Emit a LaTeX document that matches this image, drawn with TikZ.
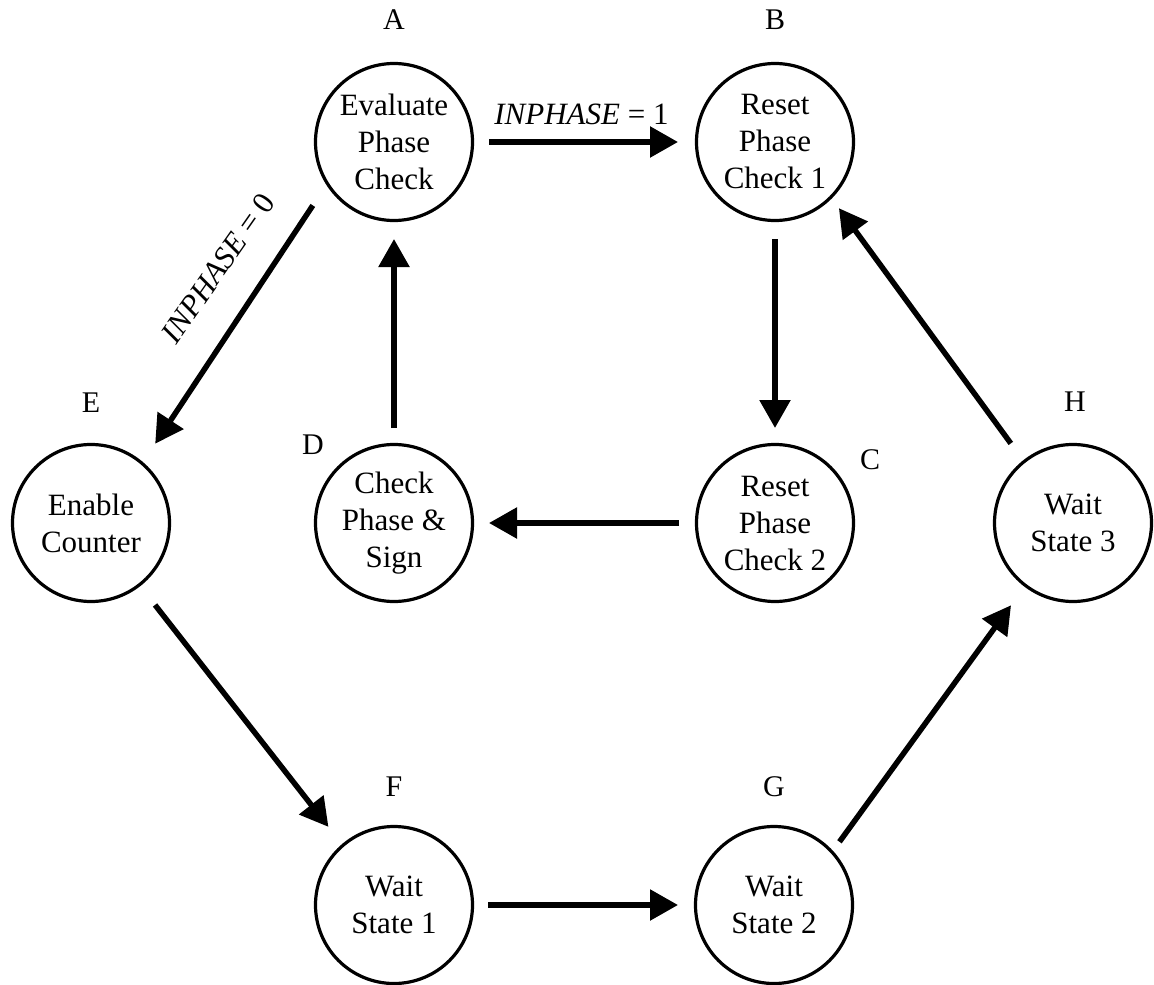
\documentclass[tikz,border=0pt]{standalone}
\usepackage{fontspec}
\setmainfont{Liberation Serif}
\usetikzlibrary{arrows.meta,calc}
\begin{document}
\begin{tikzpicture}[x=1pt,y=-1pt,
  state/.style={circle, draw, line width=3.2pt, minimum size=157pt, inner sep=0pt,
    align=center, font=\fontsize{31}{37}\selectfont},
  lbl/.style={font=\fontsize{30}{36}\selectfont, inner sep=0pt},
  cond/.style={font=\fontsize{31}{37}\selectfont, inner sep=0pt},
  arr/.style={line width=5.5pt, -{Triangle[length=28pt,width=30pt]}},
]
\useasboundingbox (0,0) rectangle (1154,985);

% states
\node[state] (A) at (394,142) {Evaluate\\Phase\\Check};
\node[state] (B) at (775,142) {Reset\\Phase\\Check 1};
\node[state] (C) at (775,523) {Reset\\Phase\\Check 2};
\node[state] (D) at (394,523) {Check\\Phase \&\\Sign};
\node[state] (E) at (91,523) {Enable\\Counter};
\node[state] (F) at (394,905) {Wait\\State 1};
\node[state] (G) at (774,905) {Wait\\State 2};
\node[state] (H) at (1073,523) {Wait\\State 3};

% letters
\node[lbl] (lA) at (394,20) {A};
\node[lbl] (lB) at (775,20) {B};
\node[lbl] (lC) at (870,460) {C};
\node[lbl] (lD) at (313,445) {D};
\node[lbl] (lE) at (91,403) {E};
\node[lbl] (lF) at (394,787) {F};
\node[lbl] (lG) at (774,787) {G};
\node[lbl] (lH) at (1075,402) {H};

% transitions
\draw[arr] ($(A)+(0:95pt)$) -- ($(B)+(180:97pt)$);
\draw[arr] ($(A)+(218:103pt)$) -- ($(E)+(51:102pt)$);
\draw[arr] ($(D)+(90:95pt)$) -- ($(A)+(-90:97pt)$);
\draw[arr] ($(B)+(-90:97pt)$) -- ($(C)+(90:95pt)$);
\draw[arr] ($(C)+(180:96pt)$) -- ($(D)+(0:95pt)$);
\draw[arr] ($(E)+(-52:104pt)$) -- ($(F)+(130:102pt)$);
\draw[arr] ($(F)+(0:94pt)$) -- ($(G)+(180:96pt)$);
\draw[arr] ($(G)+(44:91pt)$) -- ($(H)+(233:103pt)$);
\draw[arr] ($(H)+(128:101pt)$) -- ($(B)+(-46:92pt)$);

% conditions
\node[cond, anchor=base] (c1) at ($(A)!0.5!(B)+(-3pt,18pt)$) {\textit{INPHASE} = 1};
\node[cond, rotate=55] (c0) at (218,268) {\textit{INPHASE} = 0};
\end{tikzpicture}
\end{document}
